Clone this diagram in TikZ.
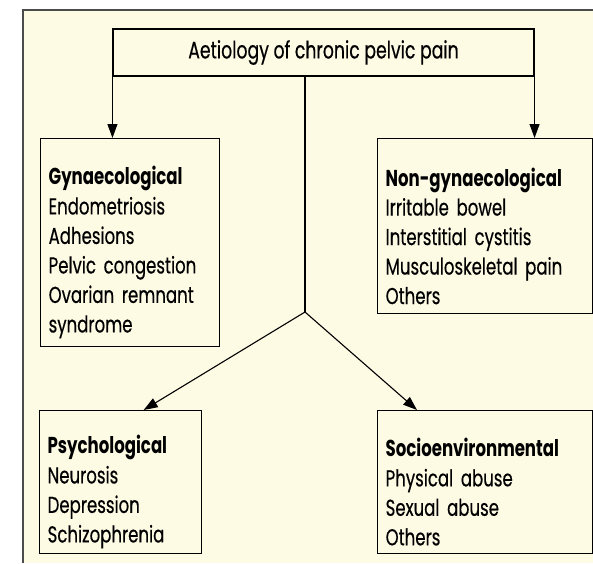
\documentclass[tikz,border=0pt]{standalone}
\usepackage{fontspec}
\setmainfont{Poppins}[FakeStretch=0.72, UprightFeatures={FakeBold=0.4}]
\usepackage{xcolor}
\usetikzlibrary{arrows.meta,positioning,calc}
\definecolor{panelcream}{RGB}{254,251,229}
\definecolor{rulegrey}{RGB}{75,75,75}
\newcommand{\boxhead}[1]{\rule{0pt}{38pt}\textbf{#1}}
\begin{document}
\begin{tikzpicture}[x=1pt,y=-1pt,
	box/.style={draw, line width=1.3pt, align=left, anchor=north west, inner xsep=8pt, inner ysep=0pt, font=\fontsize{23}{29.5}\selectfont},
	arr/.style={-{Triangle[length=14pt,width=10pt]}, line width=1.1pt}]
	\useasboundingbox (0,0) rectangle (593,563);
	\fill[panelcream] (23,10) rectangle (593,563);
	\draw[rulegrey, line width=2pt] (23,563) -- (23,10) -- (593,10);
	\node[draw, line width=1.1pt, minimum width=421pt, minimum height=47pt, font=\fontsize{24}{26}\selectfont] (title) at (323.5,52.5) {Aetiology of chronic pelvic pain};
	\node[box, text width=163pt, minimum height=208pt] (gyn) at (40,138) {\boxhead{Gynaecological}\\Endometriosis\\Adhesions\\Pelvic congestion\\Ovarian remnant\\syndrome};
	\node[box, text width=199pt, minimum height=175pt] (nongyn) at (377,138) {\boxhead{Non-gynaecological}\\Irritable bowel\\Interstitial cystitis\\Musculoskeletal pain\\Others};
	\node[box, text width=146pt, minimum height=143pt] (psych) at (39,410) {\boxhead{Psychological}\\Neurosis\\Depression\\Schizophrenia};
	\node[box, text width=199pt, minimum height=143pt] (socio) at (377,410) {\boxhead{Socioenvironmental}\\Physical abuse\\Sexual abuse\\Others};
	\coordinate (split) at (305,312);
	\draw[arr] (title.south west) -- (title.south west |- gyn.north);
	\draw[arr] (title.south east) -- (title.south east |- nongyn.north);
	\draw[line width=1.1pt] (split |- title.south) -- (split);
	\draw[arr] (split) -- ($(psych.north)+(23,0)$);
	\draw[arr] (split) -- ($(socio.north west)+(40,0)$);
\end{tikzpicture}
\end{document}
